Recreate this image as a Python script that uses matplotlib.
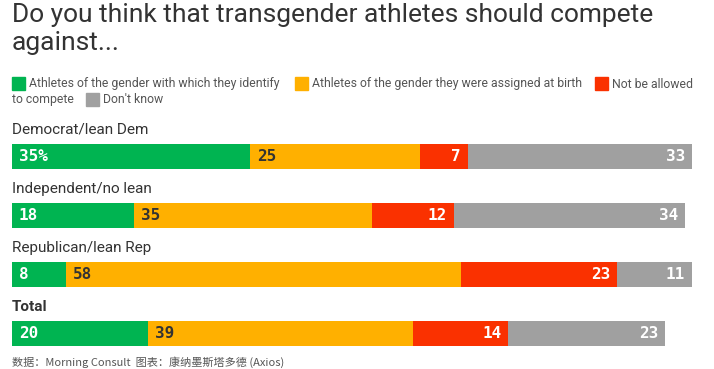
import matplotlib.pyplot as plt
from matplotlib.patches import Rectangle

# Survey data (percent)
groups = ["Democrat/lean Dem", "Independent/no lean", "Republican/lean Rep", "Total"]
identify = [35, 18, 8, 20]
assigned = [25, 35, 58, 39]
not_allowed = [7, 12, 23, 14]
dont_know = [33, 34, 11, 23]

series = [identify, assigned, not_allowed, dont_know]
names = ["Athletes of the gender with which they identify",
         "Athletes of the gender they were assigned at birth",
         "Not be allowed to compete", "Don't know"]
colors = ["#00b451", "#ffb000", "#fa3100", "#a0a0a0"]
text_colors = ["white", "#333333", "white", "white"]

W, H = 714, 369
fig = plt.figure(figsize=(W / 100, H / 100), dpi=100)

# title
fig.text(12 / W, 1 - 3 / H, "Do you think that transgender athletes should compete\nagainst...",
         fontsize=19, family="Roboto", color="#333333", va="top", ha="left", linespacing=1.2)

# legend, drawn by hand to wrap like the original
def legend_item(x, y, color, label):
    fig.patches.append(Rectangle((x / W, 1 - (y + 6) / H), 13 / W, 13 / H,
                                 transform=fig.transFigure, color=color))
    fig.text((x + 17) / W, 1 - y / H, label, fontsize=8.8, family="Roboto",
             color="#555555", va="center", ha="left")

legend_item(12, 84, colors[0], names[0])
legend_item(295, 84, colors[1], names[1])
legend_item(595, 84, colors[2], "Not be allowed")
fig.text(12 / W, 1 - 100 / H, "to compete", fontsize=8.8, family="Roboto",
         color="#555555", va="center", ha="left")
legend_item(86, 100, colors[3], "Don't know")

# bars
ax_top, ax_bot = 112.25, 363.0
ax = fig.add_axes([12 / W, 1 - ax_bot / H, 680 / W, (ax_bot - ax_top) / H])
ax.set_xlim(0, 100)
ax.set_ylim(3.5, -0.75)
ax.axis("off")

ypos = list(range(len(groups)))
left = [0] * len(groups)
for k, vals in enumerate(series):
    ax.barh(ypos, vals, left=left, height=0.425, color=colors[k], linewidth=0)
    for i, v in enumerate(vals):
        label = f"{v}%" if (k == 0 and i == 0) else str(v)
        if k < 2:
            ax.text(left[i] + 1.0, i, label, ha="left", va="center", fontsize=11.5,
                    family="DejaVu Sans Mono", fontweight="bold", color=text_colors[k])
        else:
            ax.text(left[i] + v - 1.0, i, label, ha="right", va="center", fontsize=11.5,
                    family="DejaVu Sans Mono", fontweight="bold", color=text_colors[k])
    left = [a + b for a, b in zip(left, vals)]

for i, g in enumerate(groups):
    ax.text(0, i - 0.45, g, ha="left", va="center", fontsize=11, family="Roboto",
            color="#333333", fontweight="bold" if g == "Total" else "normal")

# source line at the bottom edge
fig.text(12 / W, 1 / H, "数据：Morning Consult  图表：康纳墨斯塔多德 (Axios)",
         fontsize=8, family=["Noto Sans CJK SC", "DejaVu Sans"], color="#555555",
         va="bottom", ha="left")

fig.savefig("out.png", dpi=100)
